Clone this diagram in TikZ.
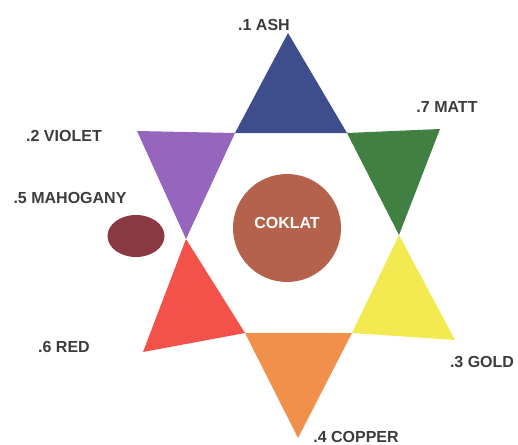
\documentclass[tikz,border=0pt]{standalone}
\usepackage{fontspec}
\setmainfont{Liberation Sans}
\usepackage{tikz}
\usetikzlibrary{shapes.geometric}
\definecolor{ashblue}{RGB}{62,78,140}
\definecolor{mattgreen}{RGB}{64,128,66}
\definecolor{goldyellow}{RGB}{242,234,80}
\definecolor{copperorange}{RGB}{240,144,74}
\definecolor{redtone}{RGB}{242,82,74}
\definecolor{violettone}{RGB}{150,102,190}
\definecolor{coklat}{RGB}{180,98,76}
\definecolor{mahogany}{RGB}{138,58,64}
\definecolor{lbltext}{RGB}{60,60,60}
\tikzset{lbl/.style={text=lbltext, font=\fontsize{8}{9}\selectfont\bfseries, inner sep=0pt}}
\newcommand{\startip}[4]{\fill[#4] (#1) -- (#2) -- (#3) -- cycle;}

\begin{document}
\begin{tikzpicture}[x=0.5pt, y=-0.5pt]
\useasboundingbox (0,0) rectangle (518,444);
% inner hexagon corners
\coordinate (h1) at (235,133); \coordinate (h2) at (347,133); \coordinate (h3) at (399,235);
\coordinate (h4) at (352,333); \coordinate (h5) at (245,333); \coordinate (h6) at (186,239);
% star tips
\startip{288,33}{h1}{h2}{ashblue}
\startip{h2}{440,129}{h3}{mattgreen}
\startip{h3}{455,340}{h4}{goldyellow}
\startip{h4}{298,438}{h5}{copperorange}
\startip{h5}{143,352}{h6}{redtone}
\startip{h6}{137,131}{h1}{violettone}
\node[circle, fill=coklat, minimum size=54pt, inner sep=0pt] (coklat) at (287,228) {};
\node[lbl, text=white] (coklatlbl) at (287,223) {COKLAT};
\node[ellipse, fill=mahogany, minimum width=28.5pt, minimum height=21pt, inner sep=0pt] (mahog) at (136,236) {};
% labels
\node[lbl] (ash) at (264,25) {.1 ASH};
\node[lbl] (matt) at (447,107) {.7 MATT};
\node[lbl] (violet) at (64,136) {.2 VIOLET};
\node[lbl] (mahoglbl) at (70,198) {.5 MAHOGANY};
\node[lbl] (red) at (64,347) {.6 RED};
\node[lbl] (gold) at (482,362) {.3 GOLD};
\node[lbl] (copper) at (356,437) {.4 COPPER};
\end{tikzpicture}
\end{document}
